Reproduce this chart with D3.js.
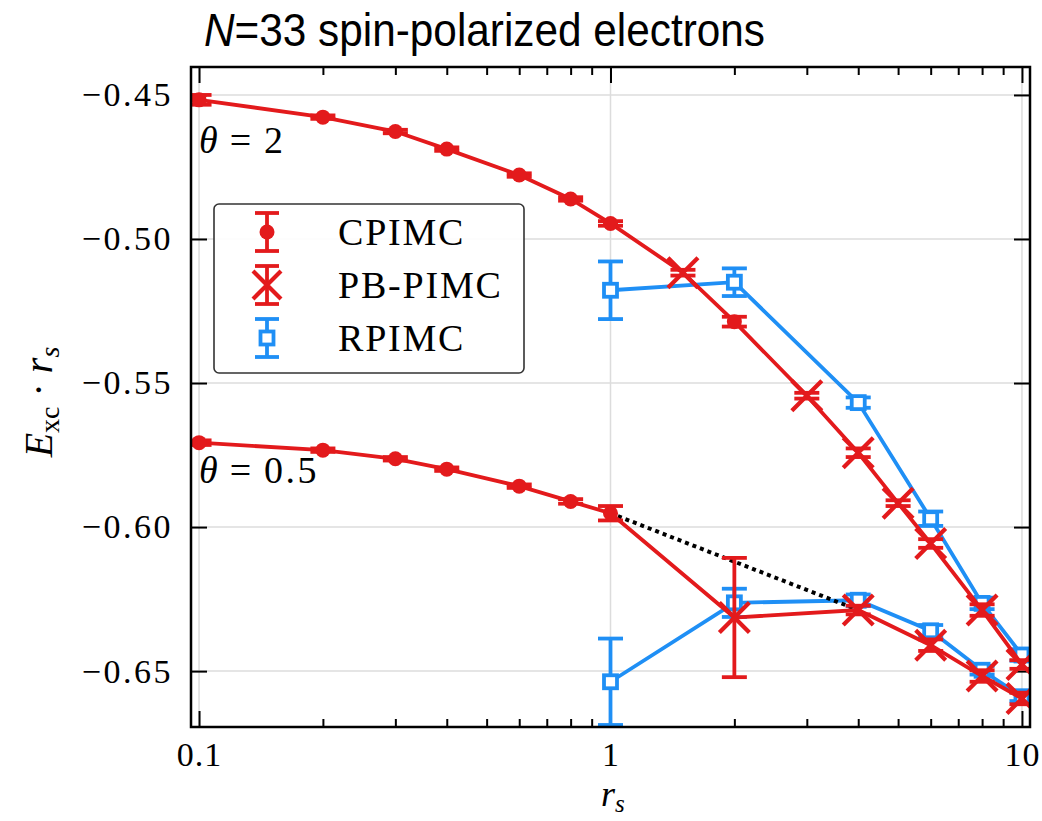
<!DOCTYPE html>
<html>
<head>
<meta charset="utf-8">
<script src="https://cdn.jsdelivr.net/npm/d3@7"></script>
<style>
  html, body { margin: 0; padding: 0; background: #fff; }
  svg { display: block; }
</style>
</head>
<body>
<svg id="chart" width="1042" height="821"></svg>
<script>
// ---- data: exchange-correlation energy E_xc * r_s vs r_s, N = 33 ----
const cpimcR      = [0.1, 0.2, 0.3, 0.4, 0.6, 0.8, 1.0, 2.0];
const cpimcT2     = [-0.4517, -0.4577, -0.4627, -0.4688, -0.4778, -0.4861, -0.4946, -0.5287];
const cpimcT2Err  = [0.0017, 0.0006, 0.0006, 0.0006, 0.0006, 0.0006, 0.0008, 0.0017];

const cpimcR05     = [0.1, 0.2, 0.3, 0.4, 0.6, 0.8, 1.0];
const cpimcT05     = [-0.5707, -0.5733, -0.5763, -0.5799, -0.5858, -0.5911, -0.5952];
const cpimcT05Err  = [0.0008, 0.0006, 0.0006, 0.0006, 0.0006, 0.0008, 0.0025];

const pbR2      = [1.5, 3, 4, 5, 6, 8, 10];
const pbT2      = [-0.5117, -0.5544, -0.5742, -0.5917, -0.6057, -0.6288, -0.6477];
const pbT2Err   = [0.0010, 0.0010, 0.0015, 0.0010, 0.0015, 0.0020, 0.0015];

const pbR05     = [2, 4, 6, 8, 10];
const pbT05     = [-0.6314, -0.6288, -0.6410, -0.6517, -0.6595];
const pbT05Err  = [0.0207, 0.0015, 0.0020, 0.0020, 0.0020];

const rpR       = [1, 2, 4, 6, 8, 10];
const rpT2      = [-0.5178, -0.5150, -0.5568, -0.5971, -0.6265, -0.6444];
const rpT2Err   = [0.0100, 0.0048, 0.0018, 0.0025, 0.0020, 0.0020];
const rpT05     = [-0.6537, -0.6263, -0.6254, -0.6360, -0.6497, -0.6589];
const rpT05Err  = [0.0150, 0.0049, 0.0020, 0.0020, 0.0015, 0.0015];

// dotted guide between CPIMC (r_s = 1) and PB-PIMC (r_s = 4) at theta = 0.5
const guideR = [1, 4];
const guideV = [-0.5952, -0.6288];

const xMajor = [0.1, 1, 10];
const xMinor = [0.2, 0.3, 0.4, 0.5, 0.6, 0.7, 0.8, 0.9, 2, 3, 4, 5, 6, 7, 8, 9];
const yMajor = [-0.45, -0.50, -0.55, -0.60, -0.65];

const legendLabels = ["CPIMC", "PB-PIMC", "RPIMC"];

// ---- layout ----
const RED = "#e31a1c";
const BLUE = "#1f8ff5";
const LW = 3.8;
const pL = 191, pR = 1030, pT = 67, pB = 727;

const svg = d3.select("#chart");
const x = d3.scaleLog().domain([0.0956, 10.46]).range([pL, pR]);
const y = d3.scaleLinear().domain([-0.6694, -0.4403]).range([pB, pT]);

const zip = (rs, vs, es) => rs.map((r, i) => ({ r, v: vs[i], e: es ? es[i] : 0 }));

svg.append("defs").append("clipPath").attr("id", "plotClip")
  .append("rect").attr("x", pL).attr("y", pT)
  .attr("width", pR - pL).attr("height", pB - pT);

// grid
const grid = svg.append("g");
grid.selectAll("line.gx").data(xMajor).join("line")
  .attr("x1", d => x(d)).attr("x2", d => x(d))
  .attr("y1", pT).attr("y2", pB)
  .attr("stroke", "#dcdcdc").attr("stroke-width", 1.5);
grid.selectAll("line.gy").data(yMajor).join("line")
  .attr("x1", pL).attr("x2", pR)
  .attr("y1", d => y(d)).attr("y2", d => y(d))
  .attr("stroke", "#dcdcdc").attr("stroke-width", 1.5);

// axes with inward ticks on all four sides
const serif = "'Liberation Serif', 'DejaVu Serif', serif";
function styleAxis(g) {
  g.select(".domain").remove();
  g.selectAll(".tick line").attr("stroke", "#000").attr("stroke-width", 2);
}
svg.append("g").attr("transform", `translate(0,${pB})`)
  .call(d3.axisBottom(x).tickValues(xMajor).tickSize(-16).tickPadding(15).tickFormat(d3.format("")))
  .call(styleAxis)
  .selectAll("text").attr("font-family", serif).attr("font-size", 34)
  .attr("letter-spacing", 1).attr("fill", "#000");
svg.append("g").attr("transform", `translate(0,${pB})`)
  .call(d3.axisBottom(x).tickValues(xMinor).tickSize(-8).tickFormat(""))
  .call(styleAxis);
svg.append("g").attr("transform", `translate(0,${pT})`)
  .call(d3.axisTop(x).tickValues(xMajor).tickSize(-16).tickFormat(""))
  .call(styleAxis);
svg.append("g").attr("transform", `translate(0,${pT})`)
  .call(d3.axisTop(x).tickValues(xMinor).tickSize(-8).tickFormat(""))
  .call(styleAxis);
svg.append("g").attr("transform", `translate(${pL},0)`)
  .call(d3.axisLeft(y).tickValues(yMajor).tickSize(-16).tickPadding(18).tickFormat(d3.format(".2f")))
  .call(styleAxis)
  .selectAll("text").attr("font-family", serif).attr("font-size", 34)
  .attr("letter-spacing", 2.5).attr("fill", "#000");
svg.append("g").attr("transform", `translate(${pR},0)`)
  .call(d3.axisRight(y).tickValues(yMajor).tickSize(-16).tickFormat(""))
  .call(styleAxis);

// data layer
const plot = svg.append("g").attr("clip-path", "url(#plotClip)");
const line = d3.line().x(d => x(d.r)).y(d => y(d.v));

function drawErrors(g, data, color) {
  const eg = g.append("g");
  data.forEach(d => {
    const x0 = x(d.r), y1 = y(d.v + d.e), y2 = y(d.v - d.e);
    eg.append("line").attr("x1", x0).attr("x2", x0).attr("y1", y1).attr("y2", y2)
      .attr("stroke", color).attr("stroke-width", LW);
    [y1, y2].forEach(yy => eg.append("line")
      .attr("x1", x0 - 12.5).attr("x2", x0 + 12.5).attr("y1", yy).attr("y2", yy)
      .attr("stroke", color).attr("stroke-width", LW));
  });
}
function circleMark(g, cx, cy) {
  g.append("circle").attr("cx", cx).attr("cy", cy).attr("r", 7.5).attr("fill", RED);
}
function crossMark(g, cx, cy, s) {
  s = s || 15;
  g.append("path").attr("d", `M${cx - s},${cy - s}L${cx + s},${cy + s}M${cx - s},${cy + s}L${cx + s},${cy - s}`)
    .attr("stroke", RED).attr("stroke-width", 4.2).attr("fill", "none");
}
function squareMark(g, cx, cy) {
  g.append("rect").attr("x", cx - 6.5).attr("y", cy - 6.5).attr("width", 13).attr("height", 13)
    .attr("fill", "#fff").attr("stroke", BLUE).attr("stroke-width", LW);
}

// RPIMC (blue) drawn first
[zip(rpR, rpT2, rpT2Err), zip(rpR, rpT05, rpT05Err)].forEach(data => {
  plot.append("path").datum(data).attr("d", line)
    .attr("fill", "none").attr("stroke", BLUE).attr("stroke-width", LW);
  drawErrors(plot, data, BLUE);
  const mg = plot.append("g");
  data.forEach(d => squareMark(mg, x(d.r), y(d.v)));
});

// dotted guide
plot.append("path").datum(zip(guideR, guideV)).attr("d", line)
  .attr("fill", "none").attr("stroke", "#000").attr("stroke-width", 4)
  .attr("stroke-dasharray", "4,4");

// red curves: CPIMC and PB-PIMC joined per temperature
const cpT2 = zip(cpimcR, cpimcT2, cpimcT2Err), pb2 = zip(pbR2, pbT2, pbT2Err);
const cpT05 = zip(cpimcR05, cpimcT05, cpimcT05Err), pb05 = zip(pbR05, pbT05, pbT05Err);
[[cpT2, pb2], [cpT05, pb05]].forEach(([cp, pb]) => {
  const joined = cp.concat(pb).sort((a, b) => a.r - b.r);
  plot.append("path").datum(joined).attr("d", line)
    .attr("fill", "none").attr("stroke", RED).attr("stroke-width", LW);
  drawErrors(plot, cp, RED);
  drawErrors(plot, pb, RED);
  const mg = plot.append("g");
  cp.forEach(d => circleMark(mg, x(d.r), y(d.v)));
  pb.forEach(d => crossMark(mg, x(d.r), y(d.v)));
});

// frame
svg.append("rect").attr("x", pL).attr("y", pT)
  .attr("width", pR - pL).attr("height", pB - pT)
  .attr("fill", "none").attr("stroke", "#000").attr("stroke-width", 2.5);

// temperature annotations
function thetaLabel(tx, ty, val) {
  const t = svg.append("text").attr("x", tx).attr("y", ty)
    .attr("font-family", serif).attr("font-size", 38).attr("fill", "#000");
  t.append("tspan").attr("font-style", "italic").text("θ");
  t.append("tspan").attr("dx", 12).text("=");
  t.append("tspan").attr("dx", 13).attr("letter-spacing", 2.5).text(val);
}
thetaLabel(199, 153, "2");
thetaLabel(199, 483, "0.5");

// legend
const lg = svg.append("g");
lg.append("rect").attr("x", 214).attr("y", 204).attr("width", 310).attr("height", 169)
  .attr("rx", 5).attr("fill", "#fff").attr("fill-opacity", 0.9)
  .attr("stroke", "#333").attr("stroke-width", 1.6);
const rowY = [232, 285, 338];
const lx = 267;
legendLabels.forEach((lab, i) => {
  const cy = rowY[i], color = i === 2 ? BLUE : RED;
  const g = lg.append("g");
  g.append("line").attr("x1", lx).attr("x2", lx).attr("y1", cy - 19).attr("y2", cy + 19)
    .attr("stroke", color).attr("stroke-width", LW);
  [cy - 19, cy + 19].forEach(yy => g.append("line")
    .attr("x1", lx - 12).attr("x2", lx + 12).attr("y1", yy).attr("y2", yy)
    .attr("stroke", color).attr("stroke-width", LW));
  if (i === 0) circleMark(g, lx, cy);
  if (i === 1) crossMark(g, lx, cy, 14);
  if (i === 2) squareMark(g, lx, cy);
  lg.append("text").attr("x", 338).attr("y", cy + 13)
    .attr("font-family", serif).attr("font-size", 38).attr("letter-spacing", 1.8)
    .attr("fill", "#000").text(lab);
});

// axis titles
const xl = svg.append("text").attr("x", 601).attr("y", 806)
  .attr("font-family", serif).attr("font-size", 36).attr("fill", "#000");
xl.append("tspan").attr("font-style", "italic").text("r");
xl.append("tspan").attr("font-style", "italic").attr("font-size", 25).attr("dy", 6).text("s");

const yl = svg.append("text").attr("transform", "translate(52,402) rotate(-90)")
  .attr("text-anchor", "middle")
  .attr("font-family", serif).attr("font-size", 40).attr("fill", "#000");
yl.append("tspan").attr("font-style", "italic").text("E");
yl.append("tspan").attr("font-size", 28).attr("dy", 7).text("xc");
yl.append("tspan").attr("dy", -7).text(" · ");
yl.append("tspan").attr("font-style", "italic").text("r");
yl.append("tspan").attr("font-style", "italic").attr("font-size", 28).attr("dy", 7).text("s");

// title
const title = svg.append("text").attr("x", 204).attr("y", 46)
  .attr("font-family", "'Liberation Sans', Arial, sans-serif").attr("font-size", 46)
  .attr("textLength", 561).attr("lengthAdjust", "spacingAndGlyphs").attr("fill", "#000");
title.append("tspan").attr("font-style", "italic").text("N");
title.append("tspan").text("=33 spin-polarized electrons");
</script>
</body>
</html>
